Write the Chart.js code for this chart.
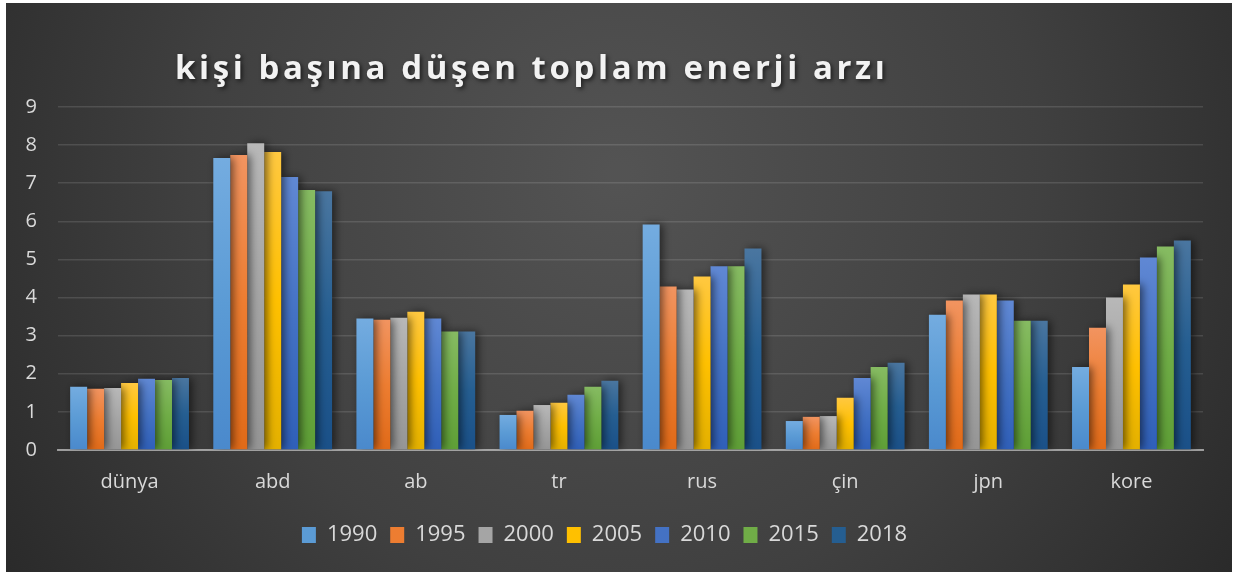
<!DOCTYPE html>
<html>
<head>
<meta charset="utf-8">
<script src="https://cdn.jsdelivr.net/npm/chart.js@4.4.0/dist/chart.umd.min.js"></script>
<style>
  html, body { margin: 0; padding: 0; background: #ffffff; }
  #wrap { position: absolute; left: 6px; top: 3px; width: 1226px; height: 569px; }
</style>
</head>
<body>
<div id="wrap"><canvas id="energyChart"></canvas></div>
<script>
// data
const countries = ["dünya", "abd", "ab", "tr", "rus", "çin", "jpn", "kore"];
const years = ["1990", "1995", "2000", "2005", "2010", "2015", "2018"];
const v1990 = [1.66, 7.66, 3.45, 0.92, 5.92, 0.76, 3.55, 2.18];
const v1995 = [1.61, 7.74, 3.42, 1.03, 4.29, 0.87, 3.92, 3.21];
const v2000 = [1.63, 8.05, 3.47, 1.18, 4.21, 0.89, 4.08, 4.00];
const v2005 = [1.76, 7.82, 3.63, 1.24, 4.55, 1.37, 4.08, 4.34];
const v2010 = [1.87, 7.16, 3.45, 1.45, 4.82, 1.89, 3.92, 5.05];
const v2015 = [1.84, 6.82, 3.11, 1.66, 4.82, 2.18, 3.39, 5.34];
const v2018 = [1.89, 6.79, 3.11, 1.82, 5.29, 2.29, 3.39, 5.50];
const yTicks = [0, 1, 2, 3, 4, 5, 6, 7, 8, 9];

const seriesValues = [v1990, v1995, v2000, v2005, v2010, v2015, v2018];
// [top, middle, bottom] shades per year
const shades = [
  ["#74ace0", "#5b9bd5", "#4a89cc"],
  ["#f29460", "#ed7d31", "#e06a18"],
  ["#b8b8b8", "#a5a5a5", "#959595"],
  ["#ffc840", "#ffc000", "#e3b000"],
  ["#6088d4", "#4472c4", "#2f5fb8"],
  ["#86bb62", "#70ad47", "#5e9e36"],
  ["#4a76a0", "#255e91", "#1a5088"],
];

function barGradient(idx) {
  return function (context) {
    const chart = context.chart;
    const area = chart.chartArea;
    if (!area || context.type !== "data") return shades[idx][1];
    const yScale = chart.scales.y;
    const top = yScale.getPixelForValue(context.parsed.y);
    const bottom = yScale.getPixelForValue(0);
    if (!isFinite(top) || bottom - top < 1) return shades[idx][1];
    const g = chart.ctx.createLinearGradient(0, top, 0, bottom);
    g.addColorStop(0, shades[idx][0]);
    g.addColorStop(0.5, shades[idx][1]);
    g.addColorStop(1, shades[idx][2]);
    return g;
  };
}

const backgroundPlugin = {
  id: "bgPanel",
  beforeDraw(chart) {
    const { ctx, width, height } = chart;
    ctx.save();
    const g = ctx.createRadialGradient(width * 0.5, height * 0.3, 10, width * 0.5, height * 0.3, width * 0.62);
    g.addColorStop(0, "#535353");
    g.addColorStop(0.55, "#404040");
    g.addColorStop(1, "#282828");
    ctx.fillStyle = g;
    ctx.fillRect(0, 0, width, height);
    ctx.restore();
  },
};

const titlePlugin = {
  id: "wideTitle",
  afterDraw(chart) {
    const ctx = chart.ctx;
    const text = "kişi başına düşen toplam enerji arzı";
    ctx.save();
    ctx.font = "bold 33px 'Open Sans'";
    ctx.letterSpacing = "0px";
    const plain = ctx.measureText(text).width;
    const spacing = (710 - plain) / (text.length - 1);
    ctx.letterSpacing = spacing.toFixed(2) + "px";
    ctx.textBaseline = "alphabetic";
    ctx.textAlign = "left";
    ctx.shadowColor = "rgba(0,0,0,0.6)";
    ctx.shadowBlur = 4;
    ctx.shadowOffsetX = 2;
    ctx.shadowOffsetY = 2;
    ctx.fillStyle = "#f2f2f2";
    ctx.fillText(text, 169, 76);
    ctx.restore();
  },
};

const shadowPlugin = {
  id: "barShadow",
  beforeDatasetsDraw(chart) {
    const ctx = chart.ctx;
    ctx.save();
    ctx.shadowColor = "rgba(0,0,0,0.55)";
    ctx.shadowBlur = 8;
    ctx.shadowOffsetX = 3;
    ctx.shadowOffsetY = 0;
  },
  afterDatasetsDraw(chart) {
    chart.ctx.restore();
  },
};

const ctx = document.getElementById("energyChart");
new Chart(ctx, {
  type: "bar",
  data: {
    labels: countries,
    datasets: years.map((y, i) => ({
      label: y,
      data: seriesValues[i],
      backgroundColor: barGradient(i),
      borderWidth: 0,
      barPercentage: 1,
      categoryPercentage: 0.83,
    })),
  },
  plugins: [backgroundPlugin, shadowPlugin, titlePlugin],
  options: {
    responsive: true,
    maintainAspectRatio: false,
    devicePixelRatio: 1,
    animation: false,
    layout: {
      padding: { top: 104, right: 29, left: 0, bottom: 16 },
    },
    plugins: {
      title: { display: false },
      tooltip: { enabled: false },
      legend: {
        position: "bottom",
        labels: {
          color: "#d9d9d9",
          font: { family: "'Open Sans'", size: 22 },
          boxWidth: 14,
          boxHeight: 16,
          padding: 13,
          generateLabels(chart) {
            return chart.data.datasets.map((ds, i) => ({
              text: ds.label,
              fillStyle: shades[i][1],
              strokeStyle: shades[i][1],
              lineWidth: 0,
              fontColor: "#d9d9d9",
              datasetIndex: i,
              hidden: false,
            }));
          },
        },
      },
    },
    scales: {
      x: {
        z: 1,
        grid: { display: false, drawTicks: false },
        border: { display: true, color: "rgba(190,190,190,0.75)", width: 2 },
        ticks: {
          color: "#d9d9d9",
          padding: 20,
          font: { family: "'Open Sans'", size: 20 },
        },
        afterFit(scale) { scale.height = 61; },
      },
      y: {
        min: 0,
        max: 9,
        afterBuildTicks(scale) { scale.ticks = yTicks.map((v) => ({ value: v })); },
        afterFit(scale) { scale.width = 52; },
        grid: { color: "rgba(255,255,255,0.12)", lineWidth: 1.5, drawTicks: false },
        border: { display: false },
        ticks: {
          color: "#d9d9d9",
          padding: 21,
          font: { family: "'Open Sans'", size: 20 },
        },
      },
    },
  },
});
</script>
</body>
</html>
